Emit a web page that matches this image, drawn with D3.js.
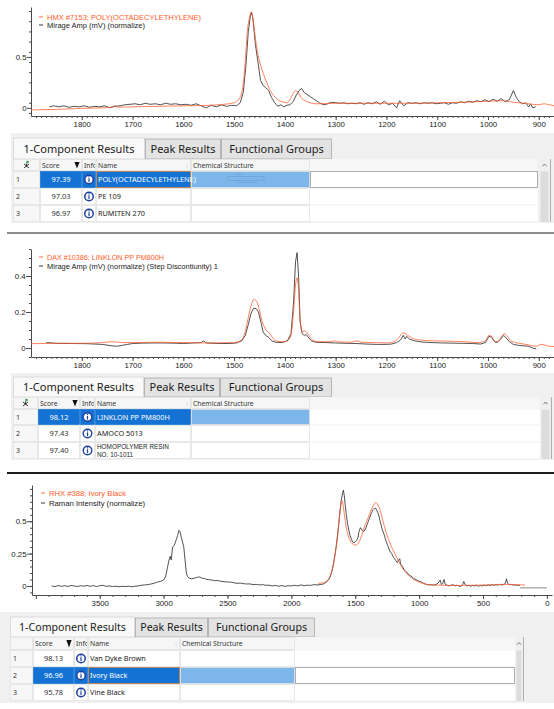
<!DOCTYPE html>
<html><head><meta charset="utf-8">
<script src="https://cdn.jsdelivr.net/npm/d3@7"></script>
<style>
html,body{margin:0;padding:0;background:#fff;}
svg{display:block;}
</style></head>
<body>
<svg id="c" width="554" height="709"></svg>
<script>
// ---------------- DATA ----------------
// Panel 1
const p1Legend = ["HMX #7153; POLY(OCTADECYLETHYLENE)", "Mirage Amp (mV) (normalize)"];
const p1XTicks = [1800,1700,1600,1500,1400,1300,1200,1100,1000,900];
const p1YTicks = [0, 0.5];
const p1Library = [[1900,-0.02],[1850,-0.015],[1800,-0.005],[1760,0.0],[1742,0.008],[1735,0.02],[1728,0.006],[1700,0.01],[1650,0.015],[1600,0.02],[1550,0.025],[1520,0.035],[1500,0.05],[1490,0.09],[1483,0.2],[1478,0.45],[1474,0.75],[1470,0.88],[1466,0.94],[1462,0.84],[1458,0.68],[1454,0.55],[1448,0.42],[1442,0.33],[1436,0.25],[1430,0.18],[1422,0.12],[1414,0.08],[1405,0.06],[1397,0.05],[1390,0.08],[1384,0.14],[1379,0.17],[1374,0.15],[1368,0.1],[1360,0.07],[1350,0.05],[1340,0.04],[1330,0.04],[1300,0.045],[1250,0.045],[1200,0.045],[1150,0.045],[1100,0.05],[1050,0.055],[1000,0.065],[970,0.07],[950,0.055],[930,0.045],[912,0.035],[900,0.03],[890,0.04],[883,0.035],[870,0.02]];
const p1Sample = [[1864,0.01],[1855,0.02],[1845,0.01],[1835,0.02],[1825,0.005],[1815,0.015],[1805,0.01],[1795,0.02],[1785,0.005],[1775,0.015],[1765,0.01],[1755,0.02],[1745,0.0],[1735,0.015],[1725,0.02],[1715,0.03],[1705,0.035],[1695,0.04],[1685,0.03],[1675,0.045],[1665,0.035],[1655,0.04],[1645,0.03],[1635,0.045],[1625,0.035],[1615,0.04],[1605,0.03],[1595,0.035],[1585,0.025],[1575,0.04],[1565,0.02],[1555,0.0],[1545,0.025],[1535,0.01],[1525,0.03],[1515,0.015],[1505,0.025],[1495,0.02],[1488,0.05],[1482,0.15],[1477,0.4],[1472,0.75],[1468,0.9],[1466,0.94],[1463,0.88],[1458,0.62],[1453,0.45],[1448,0.27],[1443,0.22],[1438,0.2],[1432,0.17],[1426,0.1],[1420,0.05],[1414,0.015],[1408,0.03],[1402,0.01],[1396,0.025],[1390,0.03],[1384,0.06],[1378,0.12],[1372,0.17],[1367,0.19],[1362,0.15],[1356,0.13],[1350,0.11],[1344,0.09],[1338,0.07],[1332,0.05],[1326,0.035],[1320,0.03],[1314,0.045],[1308,0.055],[1300,0.05],[1292,0.045],[1284,0.05],[1276,0.04],[1268,0.045],[1260,0.04],[1252,0.05],[1244,0.035],[1236,0.05],[1228,0.04],[1220,0.06],[1212,0.035],[1204,0.065],[1196,0.03],[1188,0.045],[1180,0.0],[1174,0.07],[1166,0.02],[1158,0.05],[1150,0.045],[1142,0.05],[1134,0.04],[1126,0.05],[1118,0.045],[1110,0.05],[1102,0.04],[1094,0.045],[1086,0.05],[1078,0.035],[1070,0.05],[1062,0.045],[1054,0.06],[1046,0.05],[1038,0.065],[1030,0.055],[1022,0.07],[1014,0.06],[1006,0.08],[998,0.06],[990,0.085],[982,0.065],[974,0.09],[966,0.06],[958,0.08],[950,0.17],[944,0.1],[938,0.06],[932,0.04],[926,0.05],[920,0.01],[916,0.04],[912,0.0],[906,0.01]];

// Panel 2
const p2Legend = ["DAX #10386; LINKLON PP PM800H", "Mirage Amp (mV) (normalize) (Step Discontiunity) 1"];
const p2XTicks = [1800,1700,1600,1500,1400,1300,1200,1100,1000,900];
const p2YTicks = [0, 0.2, 0.4];
const p2Library = [[1900,0.024],[1850,0.026],[1800,0.026],[1760,0.03],[1740,0.035],[1720,0.03],[1700,0.03],[1650,0.032],[1600,0.03],[1550,0.028],[1500,0.03],[1485,0.045],[1478,0.09],[1472,0.17],[1466,0.24],[1461,0.27],[1456,0.26],[1451,0.22],[1446,0.16],[1441,0.12],[1436,0.095],[1431,0.085],[1425,0.06],[1418,0.04],[1405,0.035],[1395,0.04],[1388,0.07],[1383,0.2],[1379,0.35],[1376,0.39],[1373,0.32],[1370,0.15],[1366,0.09],[1361,0.095],[1356,0.085],[1350,0.06],[1343,0.04],[1330,0.035],[1310,0.035],[1302,0.04],[1295,0.034],[1270,0.032],[1258,0.04],[1250,0.032],[1220,0.03],[1200,0.028],[1185,0.035],[1175,0.06],[1167,0.085],[1160,0.075],[1150,0.055],[1135,0.045],[1110,0.04],[1080,0.038],[1050,0.036],[1020,0.03],[1005,0.04],[998,0.07],[993,0.065],[986,0.035],[980,0.035],[974,0.06],[968,0.08],[962,0.065],[955,0.04],[945,0.03],[925,0.02],[905,0.01],[895,0.02],[890,0.018],[880,0.01],[870,0.008]];
const p2Sample = [[1870,0.03],[1860,0.028],[1850,0.026],[1820,0.025],[1790,0.024],[1760,0.02],[1740,0.012],[1730,0.01],[1720,0.015],[1710,0.02],[1700,0.025],[1680,0.027],[1660,0.028],[1640,0.028],[1620,0.027],[1600,0.025],[1580,0.028],[1565,0.03],[1560,0.04],[1555,0.028],[1530,0.025],[1510,0.025],[1495,0.028],[1485,0.04],[1478,0.07],[1472,0.13],[1467,0.19],[1462,0.22],[1457,0.22],[1452,0.2],[1447,0.14],[1443,0.09],[1438,0.07],[1432,0.06],[1426,0.04],[1418,0.032],[1405,0.03],[1395,0.04],[1388,0.08],[1383,0.25],[1379,0.48],[1376,0.53],[1373,0.4],[1370,0.15],[1366,0.08],[1362,0.07],[1358,0.075],[1354,0.06],[1348,0.04],[1340,0.032],[1320,0.03],[1300,0.028],[1280,0.026],[1260,0.025],[1240,0.022],[1220,0.02],[1200,0.02],[1190,0.022],[1180,0.03],[1172,0.045],[1167,0.07],[1163,0.05],[1160,0.065],[1155,0.05],[1145,0.04],[1130,0.033],[1110,0.03],[1090,0.028],[1070,0.027],[1050,0.026],[1030,0.025],[1015,0.022],[1005,0.03],[998,0.065],[993,0.06],[987,0.035],[982,0.03],[975,0.05],[969,0.07],[964,0.055],[958,0.035],[950,0.02],[940,0.015],[930,0.012],[920,0.01],[912,0.0],[905,-0.005]];

// Panel 3
const p3Legend = ["RHX #388; Ivory Black", "Raman Intensity (normalize)"];
const p3XTicks = [3500,3000,2500,2000,1500,1000,500,0];
const p3XTickExtra = [4000];
const p3YTicks = [0, 0.25, 0.5];
const p3Library = [[1790,0.02],[1750,0.025],[1720,0.04],[1700,0.07],[1680,0.13],[1660,0.23],[1640,0.37],[1625,0.52],[1612,0.63],[1604,0.66],[1596,0.63],[1585,0.55],[1570,0.45],[1555,0.39],[1540,0.35],[1525,0.33],[1510,0.32],[1495,0.315],[1480,0.325],[1465,0.35],[1450,0.39],[1430,0.45],[1410,0.5],[1390,0.55],[1370,0.6],[1350,0.635],[1338,0.645],[1325,0.63],[1310,0.6],[1295,0.55],[1280,0.49],[1260,0.42],[1240,0.36],[1220,0.31],[1200,0.27],[1175,0.22],[1150,0.17],[1125,0.13],[1100,0.1],[1075,0.075],[1050,0.055],[1025,0.04],[1000,0.03],[975,0.02],[950,0.013],[925,0.01],[900,0.008],[850,0.006],[800,0.005],[750,0.004],[700,0.004],[650,0.005],[600,0.005],[550,0.006],[500,0.007],[450,0.008],[400,0.01],[350,0.012],[300,0.012],[250,0.01],[200,0.008],[172,0.007]];
const p3Sample = [[3876,0.0],[3850,-0.005],[3825,0.003],[3800,-0.003],[3775,0.002],[3750,-0.004],[3725,0.003],[3700,0.0],[3675,-0.005],[3650,0.002],[3625,-0.002],[3600,0.004],[3575,-0.003],[3550,0.003],[3525,-0.005],[3500,0.002],[3475,0.005],[3450,-0.003],[3425,0.0],[3400,-0.004],[3375,-0.002],[3350,-0.006],[3325,-0.003],[3300,-0.005],[3275,-0.002],[3250,-0.006],[3225,-0.002],[3200,0.0],[3175,0.005],[3150,0.008],[3125,0.01],[3100,0.015],[3075,0.02],[3050,0.03],[3025,0.035],[3000,0.045],[2985,0.07],[2970,0.14],[2958,0.2],[2948,0.23],[2940,0.2],[2930,0.3],[2920,0.31],[2910,0.33],[2900,0.36],[2890,0.39],[2880,0.43],[2872,0.42],[2862,0.38],[2852,0.34],[2842,0.3],[2832,0.2],[2822,0.1],[2812,0.07],[2800,0.06],[2780,0.055],[2760,0.06],[2740,0.065],[2720,0.07],[2700,0.06],[2680,0.058],[2660,0.05],[2640,0.048],[2620,0.045],[2600,0.04],[2575,0.042],[2550,0.035],[2525,0.033],[2500,0.03],[2475,0.03],[2450,0.025],[2425,0.02],[2400,0.022],[2375,0.018],[2350,0.015],[2325,0.016],[2300,0.01],[2275,0.012],[2250,0.008],[2225,0.01],[2200,0.005],[2175,0.006],[2150,0.0],[2125,0.004],[2100,-0.002],[2075,0.003],[2050,-0.003],[2025,0.002],[2000,0.0],[1975,0.005],[1950,0.0],[1925,0.008],[1900,0.002],[1875,0.006],[1850,0.004],[1825,0.01],[1800,0.008],[1775,0.01],[1750,0.015],[1725,0.03],[1700,0.06],[1680,0.12],[1665,0.2],[1650,0.3],[1635,0.42],[1620,0.57],[1610,0.66],[1600,0.71],[1593,0.74],[1586,0.7],[1578,0.62],[1570,0.55],[1560,0.48],[1550,0.43],[1540,0.39],[1530,0.36],[1520,0.34],[1510,0.335],[1500,0.34],[1490,0.35],[1480,0.37],[1470,0.42],[1460,0.45],[1452,0.44],[1445,0.43],[1435,0.42],[1420,0.44],[1405,0.48],[1390,0.52],[1375,0.56],[1360,0.59],[1350,0.6],[1340,0.6],[1330,0.58],[1320,0.56],[1305,0.5],[1290,0.44],[1275,0.4],[1260,0.35],[1245,0.31],[1230,0.27],[1215,0.25],[1200,0.22],[1185,0.2],[1170,0.18],[1160,0.2],[1152,0.21],[1145,0.17],[1130,0.15],[1115,0.12],[1100,0.11],[1085,0.09],[1070,0.08],[1055,0.07],[1040,0.055],[1025,0.05],[1010,0.04],[995,0.035],[980,0.03],[965,0.02],[950,0.015],[935,0.01],[920,0.008],[905,0.01],[890,0.005],[875,0.01],[860,0.015],[845,0.03],[835,0.045],[825,0.01],[815,0.02],[805,0.05],[795,0.01],[780,0.005],[765,0.0],[750,0.005],[735,0.01],[720,0.0],[705,0.005],[690,0.0],[675,-0.005],[660,0.01],[650,0.035],[640,0.01],[625,0.0],[610,0.005],[595,-0.003],[580,0.004],[565,0.0],[550,0.006],[535,-0.002],[520,0.003],[505,0.0],[490,0.006],[475,0.002],[460,0.008],[445,0.004],[430,0.01],[415,0.005],[400,0.01],[385,0.006],[370,0.012],[355,0.008],[340,0.01],[325,0.02],[316,0.055],[308,0.02],[295,0.01],[280,0.012],[265,0.006],[250,0.01],[235,0.004],[220,0.008],[211,0.0]];
const p3Tail = [[211,-0.015],[0,-0.015]];

// Tables
const tabLabels = ["1-Component Results", "Peak Results", "Functional Groups"];
const headerLabels = ["Score", "Info", "Name", "Chemical Structure"];
const t1Scores = ["97.39", "97.03", "96.97"];
const t1Names = [["POLY(OCTADECYLETHYLENE)"], ["PE 109"], ["RUMITEN 270"]];
const t2Scores = ["98.12", "97.43", "97.40"];
const t2Names = [["LINKLON PP PM800H"], ["AMOCO 5013"], ["HOMOPOLYMER RESIN", "NO. 10-1011"]];
const t3Scores = ["98.13", "96.96", "95.78"];
const t3Names = [["Van Dyke Brown"], ["Ivory Black"], ["Vine Black"]];

// ---------------- DRAWING ----------------
const svg = d3.select("#c");
const ORANGE = "#ff5a2a", DARK = "#333333";
const FONT_CHART = "'Liberation Sans', Arial, sans-serif";
const FONT_UI = "'Noto Sans', 'Open Sans', sans-serif";

function drawChart(c) {
  const g = svg.append("g").attr("font-family", FONT_CHART);
  const x = d3.scaleLinear().domain(c.xDomain).range(c.xRange);
  const y = d3.scaleLinear().domain(c.yDomain).range(c.yRange);
  const yb = c.yRange[0], xl = c.xRange[0];

  const style = s => {
    s.selectAll(".domain").attr("stroke", "#4a4a4a");
    s.selectAll(".tick line").attr("stroke", "#4a4a4a");
    s.selectAll(".tick text").attr("fill", "#222").attr("font-size", 7.8).attr("font-family", FONT_CHART);
  };
  g.append("g").attr("transform", `translate(0,${yb})`)
    .call(d3.axisBottom(x).tickValues(c.xMinor).tickSize(2).tickSizeOuter(0).tickFormat(""))
    .call(s => s.select(".domain").remove()).call(style);
  g.append("g").attr("transform", `translate(0,${yb})`)
    .call(d3.axisBottom(x).tickValues(c.xTicks).tickSize(4).tickSizeOuter(0).tickPadding(1.5).tickFormat(d3.format("d")))
    .call(style);
  if (c.xExtra) {
    g.append("g").attr("transform", `translate(0,${yb})`)
      .call(d3.axisBottom(x).tickValues(c.xExtra).tickSize(4).tickSizeOuter(0).tickFormat(""))
      .call(s => s.select(".domain").remove()).call(style);
  }
  g.append("g").attr("transform", `translate(${xl},0)`)
    .call(d3.axisLeft(y).tickValues(c.yMinor).tickSize(2).tickSizeOuter(0).tickFormat(""))
    .call(s => s.select(".domain").remove()).call(style);
  g.append("g").attr("transform", `translate(${xl},0)`)
    .call(d3.axisLeft(y).tickValues(c.yTicks).tickSize(c.yTickLen).tickSizeOuter(0).tickPadding(0.5).tickFormat(d3.format("~g")))
    .call(style);

  const lineS = d3.line().x(d => x(d[0])).y(d => y(d[1]));
  const lineL = d3.line().x(d => x(d[0])).y(d => y(d[1])).curve(d3.curveMonotoneX);
  if (c.tail) {
    g.append("path").datum(c.tail).attr("d", lineS).attr("fill", "none").attr("stroke", "#8a8a8a").attr("stroke-width", 1);
  }
  g.append("path").datum(c.sample).attr("d", lineS).attr("fill", "none").attr("stroke", DARK).attr("stroke-width", 0.85).attr("stroke-linejoin", "round");
  g.append("path").datum(c.library).attr("d", lineL).attr("fill", "none").attr("stroke", ORANGE).attr("stroke-width", 0.9).attr("stroke-opacity", 0.85);

  const lg = g.append("g").attr("font-size", 7.4);
  const cols = [ORANGE, "#222"];
  c.legend.forEach((t, i) => {
    const ty = c.legendY[i];
    lg.append("line").attr("x1", c.legendX).attr("x2", c.legendX + 4).attr("y1", ty - 2.5).attr("y2", ty - 2.5)
      .attr("stroke", cols[i]).attr("stroke-width", 0.9);
    lg.append("text").attr("x", c.legendX + 8).attr("y", ty).attr("fill", cols[i])
      .attr("textLength", c.legendW[i]).attr("lengthAdjust", "spacingAndGlyphs").text(t);
  });
}

function infoIcon(g, cx, cy) {
  const ic = g.append("g");
  ic.append("circle").attr("cx", cx).attr("cy", cy).attr("r", 4.3)
    .attr("fill", "#fff").attr("stroke", "#1d3f9e").attr("stroke-width", 1.4);
  ic.append("rect").attr("x", cx - 0.6).attr("y", cy - 1.2).attr("width", 1.2).attr("height", 3.8).attr("fill", "#1d3f9e");
  ic.append("rect").attr("x", cx - 0.6).attr("y", cy - 3.2).attr("width", 1.2).attr("height", 1.2).attr("fill", "#1d3f9e");
  ic.append("path").attr("d", `M${cx-3.6},${cy-2.2}A4.3,4.3 0 0 0 ${cx-3.6},${cy+2.2}Z`).attr("fill", "#2d56c0");
  ic.append("path").attr("d", `M${cx+3.6},${cy-2.2}A4.3,4.3 0 0 1 ${cx+3.6},${cy+2.2}Z`).attr("fill", "#2d56c0");
}

let clipId = 0;
function drawTable(t) {
  const g = svg.append("g").attr("font-family", FONT_UI);
  g.append("rect").attr("x", t.panel[0]).attr("y", t.panel[1]).attr("width", t.panel[2]).attr("height", t.panel[3]).attr("fill", "#f0f0f0");
  tabLabels.forEach((lab, i) => {
    const x0 = t.tabX[i], x1 = t.tabX[i + 1];
    const active = i === 0;
    g.append("rect").attr("x", x0 + 0.5).attr("y", t.tabY + (active ? 0 : 1)).attr("width", x1 - x0 - 1).attr("height", t.tabH - (active ? 0 : 1))
      .attr("fill", active ? "#f9f9f9" : "#e3e3e3").attr("stroke", active ? "#d6d6d6" : "#a9a9a9").attr("stroke-width", 0.8);
    g.append("text").attr("x", (x0 + x1) / 2).attr("y", t.tabY + t.tabH / 2 + 4).attr("text-anchor", "middle")
      .attr("font-size", t.tabFont).attr("fill", "#1a1a1a").text(lab);
  });
  const C = t.cols;
  const hy = t.headerY, hh = t.headerH;
  g.append("rect").attr("x", C[0]).attr("y", hy).attr("width", C[6] - C[0]).attr("height", hh).attr("fill", "#f6f6f6");
  for (let k = 0; k < 5; k++) {
    g.append("rect").attr("x", C[k] + 0.5).attr("y", hy + 0.5).attr("width", C[k + 1] - C[k] - 1).attr("height", hh - 1)
      .attr("fill", "#f6f6f6").attr("stroke", "#dedede").attr("stroke-width", 0.7);
  }
  headerLabels.forEach((lab, k) => {
    const id = "clip" + (clipId++);
    g.append("clipPath").attr("id", id).append("rect").attr("x", C[k + 1]).attr("y", hy).attr("width", C[k + 2] - C[k + 1] - 1).attr("height", hh);
    g.append("text").attr("clip-path", `url(#${id})`).attr("x", C[k + 1] + 2).attr("y", hy + hh / 2 + 2.5)
      .attr("font-size", 6.8).attr("fill", "#333").text(lab);
  });
  const ax = C[2] - 5;
  g.append("path").attr("d", `M${ax-2.6},${hy+3}L${ax+2.6},${hy+3}L${ax},${hy+hh-2.5}Z`).attr("fill", "#111");
  g.append("text").attr("x", C[4] - 4).attr("y", hy + hh / 2 + 2.5).attr("font-size", 6).attr("fill", "#aaa").attr("text-anchor", "middle").text("⁝");
  if (t.icon) {
    const ix = (C[0] + C[1]) / 2, iy = hy + hh / 2;
    g.append("circle").attr("cx", ix + 1).attr("cy", iy - 3).attr("r", 1.3).attr("fill", "#2e9e4a");
    g.append("path").attr("d", `M${ix-2.5},${iy-1}L${ix+2.5},${iy+3}M${ix+2.5},${iy-1}L${ix-2.5},${iy+3}M${ix},${iy-1.5}L${ix},${iy+2}`)
      .attr("stroke", "#333").attr("stroke-width", 1);
  }
  t.scores.forEach((s, i) => {
    const ry = t.rowY[i], rh = t.rowY[i + 1] - t.rowY[i];
    const sel = i === t.selected;
    const cellFill = ["#f7f7f7", sel ? "#1372d3" : "#fff", sel ? "#1372d3" : "#fff", sel ? "#1372d3" : "#fff", sel ? "#7db7e9" : "#fff"];
    for (let k = 0; k < 5; k++) {
      g.append("rect").attr("x", C[k] + 0.5).attr("y", ry + 0.5).attr("width", C[k + 1] - C[k] - 1).attr("height", rh - 1)
        .attr("fill", cellFill[k]).attr("stroke", sel && k > 0 && k < 4 ? "#1372d3" : "#e2e2e2").attr("stroke-width", 0.7);
    }
    g.append("rect").attr("x", C[5]).attr("y", ry + 0.5).attr("width", C[6] - C[5]).attr("height", rh - 1).attr("fill", "#fff");
    if (sel && t.selBox) {
      g.append("rect").attr("x", C[5] + 0.5).attr("y", ry + 0.5).attr("width", C[6] - C[5] - 1).attr("height", rh - 1)
        .attr("fill", "#fff").attr("stroke", "#9a9a9a").attr("stroke-width", 0.8);
      g.append("rect").attr("x", C[3] + 0.5).attr("y", ry + 0.5).attr("width", C[4] - C[3] - 1).attr("height", rh - 1)
        .attr("fill", "none").attr("stroke", "#c9874e").attr("stroke-width", 0.9);
    }
    const cy = ry + rh / 2;
    g.append("text").attr("x", C[0] + 3).attr("y", cy + 2.5).attr("font-size", 7).attr("fill", "#333").text(i + 1);
    g.append("text").attr("x", (C[1] + C[2]) / 2).attr("y", cy + 2.6).attr("text-anchor", "middle").attr("font-size", 7.5)
      .attr("fill", sel ? "#fff" : "#333").text(s);
    infoIcon(g, (C[2] + C[3]) / 2, cy);
    const nm = t.names[i];
    nm.forEach((line, j) => {
      const multi = nm.length > 1;
      g.append("text").attr("x", C[3] + 2).attr("y", cy + (multi ? 2.2 : 2.6) + (j - (nm.length - 1) / 2) * 7.6)
        .attr("font-family", multi ? FONT_CHART : null)
        .attr("font-size", multi ? 6.4 : 7.3).attr("fill", sel ? "#fff" : "#222").text(line);
    });
    if (sel && t.structure) {
      const sx = C[4] + 37, sy = cy;
      g.append("path").attr("d", `M${sx},${sy-3}H${sx+36}M${sx},${sy+1}H${sx+36}M${sx},${sy-3}V${sy+1}M${sx+36},${sy-3}V${sy+1}M${sx+6},${sy-5}H${sx+14}M${sx+8},${sy+3}H${sx+30}`)
        .attr("stroke", "#5f92c6").attr("stroke-width", 0.5).attr("fill", "none").attr("opacity", 0.8);
    }
  });
  const sx0 = t.scroll[0], sw = t.scroll[1];
  const yEnd = t.rowY[t.rowY.length - 1];
  g.append("rect").attr("x", sx0).attr("y", hy).attr("width", sw).attr("height", yEnd - hy).attr("fill", "#f0f0f0");
  g.append("rect").attr("x", sx0 + 1.5).attr("y", t.rowY[0] + 0.5).attr("width", sw - 3).attr("height", yEnd - t.rowY[0] - 0.5).attr("fill", "#dcdcdc");
  g.append("path").attr("d", `M${sx0+sw/2-2},${hy+hh/2+1.2}L${sx0+sw/2},${hy+hh/2-1}L${sx0+sw/2+2},${hy+hh/2+1.2}`)
    .attr("stroke", "#555").attr("stroke-width", 0.8).attr("fill", "none");
  g.append("line").attr("x1", sx0 + sw + 0.5).attr("x2", sx0 + sw + 0.5).attr("y1", hy).attr("y2", yEnd).attr("stroke", "#9d9d9d").attr("stroke-width", 0.8);
}

// Panel 1
drawChart({
  xDomain: [1900, 870], xRange: [31, 554], yDomain: [-0.08, 0.99], yRange: [116, 7],
  xTicks: p1XTicks, xMinor: d3.range(1890, 870, -10), yTicks: p1YTicks, yMinor: d3.range(-0.05, 0.99, 0.1).map(v => +v.toFixed(2)).filter(v => v > -0.08),
  yTickLen: 4, library: p1Library, sample: p1Sample, legend: p1Legend, legendX: 39, legendY: [19.5, 27.5], legendW: [154, 98]
});
drawTable({
  panel: [11, 133, 543, 90], tabX: [13, 145, 221, 332], tabY: 138, tabH: 21, tabFont: 11,
  cols: [13, 40, 82, 96, 191, 310, 538], headerY: 159, headerH: 12, rowY: [171, 188, 205, 222],
  scores: t1Scores, names: t1Names, selected: 0, selBox: true, structure: true, icon: true, scroll: [539, 11]
});
svg.append("line").attr("x1", 7).attr("x2", 554).attr("y1", 233).attr("y2", 233).attr("stroke", "#8c8c8c").attr("stroke-width", 2);

// Panel 2
drawChart({
  xDomain: [1900, 870], xRange: [31, 554], yDomain: [-0.05, 0.55], yRange: [357, 249],
  xTicks: p2XTicks, xMinor: d3.range(1890, 870, -10), yTicks: p2YTicks, yMinor: d3.range(-0.05, 0.56, 0.05).map(v => +v.toFixed(2)),
  yTickLen: 5, library: p2Library, sample: p2Sample, legend: p2Legend, legendX: 39, legendY: [259.5, 268.5], legendW: [117, 171]
});
drawTable({
  panel: [11, 373, 543, 87], tabX: [13, 144, 220, 332], tabY: 377, tabH: 20, tabFont: 11,
  cols: [13, 38, 80, 95, 191, 310, 540], headerY: 397, headerH: 12, rowY: [409, 425, 442, 459],
  scores: t2Scores, names: t2Names, selected: 0, selBox: false, structure: false, icon: true, scroll: [540, 11]
});
svg.append("line").attr("x1", 7).attr("x2", 554).attr("y1", 473).attr("y2", 473).attr("stroke", "#1e1e1e").attr("stroke-width", 2);

// Panel 3
drawChart({
  xDomain: [4030, -40], xRange: [32, 552], yDomain: [-0.07, 0.78], yRange: [595, 485],
  xTicks: p3XTicks, xMinor: d3.range(3900, -40, -100), xExtra: p3XTickExtra, yTicks: p3YTicks, yMinor: d3.range(-0.05, 0.78, 0.05).map(v => +v.toFixed(2)),
  yTickLen: 5, library: p3Library, sample: p3Sample, tail: p3Tail, legend: p3Legend, legendX: 41, legendY: [495.5, 505.5], legendW: [77, 96]
});
drawTable({
  panel: [0, 612, 554, 91], tabX: [10, 135, 208, 315], tabY: 617, tabH: 20, tabFont: 10.6,
  cols: [10, 33, 74, 88, 180, 295, 515], headerY: 637, headerH: 13, rowY: [650, 667, 684, 701],
  scores: t3Scores, names: t3Names, selected: 1, selBox: true, structure: false, icon: false, scroll: [515, 8]
});
</script>
</body></html>
